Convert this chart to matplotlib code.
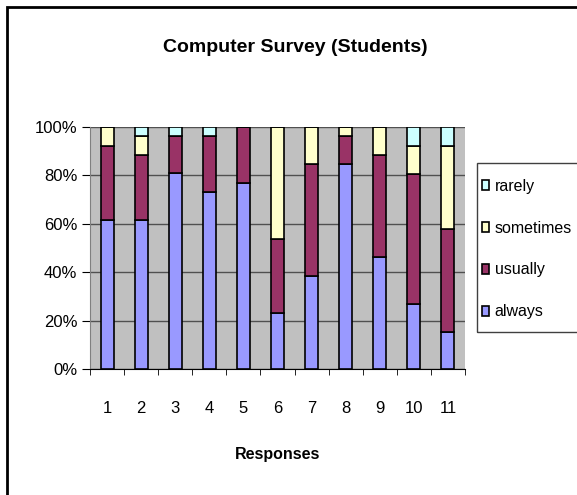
import matplotlib.pyplot as plt
from matplotlib.patches import Rectangle
import numpy as np

# Percent of responses per question (stacked to 100%)
responses = ["1", "2", "3", "4", "5", "6", "7", "8", "9", "10", "11"]
always = [61.5, 61.5, 80.8, 73.1, 76.9, 23.1, 38.5, 84.6, 46.2, 26.9, 15.4]
usually = [30.8, 26.9, 15.4, 23.1, 23.1, 30.8, 46.2, 11.5, 42.3, 53.8, 42.3]
sometimes = [7.7, 7.7, 0.0, 0.0, 0.0, 46.1, 15.3, 3.9, 11.5, 11.6, 34.6]
rarely = [0.0, 3.9, 3.8, 3.8, 0.0, 0.0, 0.0, 0.0, 0.0, 7.7, 7.7]

plt.rcParams['font.family'] = ['Liberation Sans', 'DejaVu Sans']

fig = plt.figure(figsize=(5.77, 4.95), dpi=100)
ax = fig.add_axes([90 / 577, 1 - 369 / 495, 375 / 577, 242 / 495])
ax.set_facecolor("#C0C0C0")

x = np.arange(len(responses))
w = 0.38
series = [("always", always, "#9999FF"), ("usually", usually, "#993366"),
          ("sometimes", sometimes, "#FFFFCC"), ("rarely", rarely, "#CCFFFF")]
bottom = np.zeros(len(responses))
handles = []
for name, vals, col in series:
    b = ax.bar(x, vals, w, bottom=bottom, color=col, edgecolor="black",
               linewidth=1.2, label=name, zorder=3)
    handles.append(b)
    bottom += np.array(vals)

ax.set_xlim(-0.5, len(responses) - 0.5)
ax.set_ylim(0, 100)
ax.set_yticks([0, 20, 40, 60, 80, 100])
ax.set_yticklabels(["0%", "20%", "40%", "60%", "80%", "100%"], fontsize=12)
ax.set_xticks(x)
ax.set_xticklabels(responses, fontsize=12)
ax.set_xticks(np.arange(-0.5, len(responses), 1), minor=True)
ax.tick_params(axis="x", which="major", length=0, pad=23)
ax.tick_params(axis="x", which="minor", length=4, direction="out")
ax.tick_params(axis="y", length=6, direction="out", pad=3)
ax.yaxis.grid(True, color="#505050", linewidth=1, zorder=1)
for s in ["top", "right"]:
    ax.spines[s].set_visible(False)
ax.spines["left"].set_color("#808080")
ax.spines["bottom"].set_color("black")

ax.set_xlabel("Responses", fontsize=11.5, fontweight="bold", labelpad=22)
fig.text(295 / 577, 1 - 47 / 495, "Computer Survey (Students)", fontsize=14,
         fontweight="bold", ha="center", va="center")

leg = fig.legend(handles[::-1], [s[0] for s in series[::-1]],
                 loc="upper left", bbox_to_anchor=(477 / 577, 1 - 174 / 495),
                 fontsize=11.5, frameon=False, handlelength=0.45,
                 handleheight=0.6, handletextpad=0.35, labelspacing=1.68,
                 borderpad=0.3, borderaxespad=0)
# legend box, running off the right edge like the reference
fig.patches.append(Rectangle((477 / 577, 1 - 332 / 495), 0.5, 169 / 495,
                             transform=fig.transFigure, fill=False,
                             edgecolor="#404040", linewidth=1))

# outer chart border (left and top visible)
fig.patches.append(Rectangle((7 / 577, -0.1), 1.2, 1 - 7 / 495 + 0.1,
                             transform=fig.transFigure, fill=False,
                             edgecolor="black", linewidth=2))

fig.savefig("out.png", dpi=100)
